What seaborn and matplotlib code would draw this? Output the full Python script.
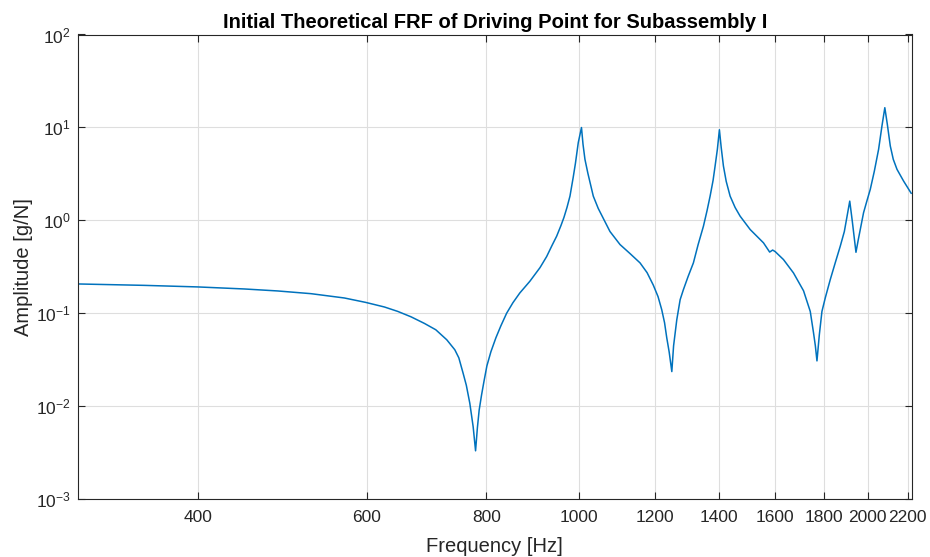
import numpy as np
import pandas as pd
import matplotlib
matplotlib.use("Agg")
import matplotlib.pyplot as plt
import seaborn as sns
from matplotlib.ticker import FixedLocator, FixedFormatter, NullLocator, LogFormatterMathtext

# Values (frequency in Hz, amplitude in g/N)
freq_hz = [
    300, 351.6, 400, 447.2, 484.5, 525.0, 568.8, 598.6, 626.3, 646.6,
    667.6, 689.5, 708.5, 727.4, 741.6, 748.8, 756.5, 762.4, 768.8, 775.0,
    779.5, 782.9, 786.3, 790.8, 795.2, 801.0, 808.7, 818.5, 828.4, 839.9,
    852.7, 866.9, 888.0, 910.0, 924.6, 936.5, 947.1, 957.0, 963.8, 970.9,
    977.9, 985.5, 990.8, 997.6, 1005.3, 1009.0, 1013.7, 1020.9, 1034.2, 1046.6,
    1059.5, 1076.5, 1102.8, 1129.6, 1157.1, 1176.8, 1194.6, 1208.3, 1219.0, 1227.3,
    1233.8, 1240.9, 1248.9, 1254.2, 1263.9, 1274.1, 1284.1, 1298.6, 1315.3, 1330.4,
    1347.4, 1359.3, 1369.2, 1379.0, 1385.7, 1393.3, 1400.1, 1406.1, 1413.7, 1423.2,
    1436.6, 1453.9, 1471.5, 1507.5, 1556.5, 1579.7, 1591.1, 1600.7, 1633.1, 1672.7,
    1713.6, 1741.5, 1755.2, 1763.0, 1769.8, 1779.9, 1791.1, 1805.7, 1827.2, 1849.5,
    1871.6, 1890.1, 1901.5, 1914.8, 1926.7, 1943.6, 1954.6, 1979.3, 1994.6, 2011.5,
    2031.1, 2052.2, 2068.8, 2083.1, 2095.6, 2110.6, 2125.8, 2144.9, 2179.2, 2219.7,
]
amplitude = [
    0.2056, 0.1986, 0.191, 0.1816, 0.1729, 0.1616, 0.1452, 0.1302, 0.1161, 0.1041,
    0.091, 0.0772, 0.066, 0.0515, 0.0402, 0.0329, 0.0225, 0.01665, 0.01067, 0.00596,
    0.00328, 0.00579, 0.00903, 0.0131, 0.0181, 0.02697, 0.0382, 0.0541, 0.0729, 0.0995,
    0.1292, 0.1644, 0.2195, 0.3084, 0.4055, 0.533, 0.672, 0.8766, 1.0695, 1.371,
    1.816, 2.892, 4.096, 6.855, 9.95, 6.57, 4.524, 3.194, 1.816, 1.338,
    1.043, 0.755, 0.5464, 0.4369, 0.3467, 0.2724, 0.1996, 0.15, 0.1086, 0.0786,
    0.0541, 0.0382, 0.0234, 0.0443, 0.0847, 0.1392, 0.1785, 0.2466, 0.3467, 0.5464,
    0.861, 1.273, 1.816, 2.684, 3.83, 5.80, 9.42, 6.10, 3.83, 2.617,
    1.816, 1.371, 1.105, 0.793, 0.570, 0.4535, 0.4767, 0.459, 0.3763, 0.2704,
    0.1737, 0.1041, 0.0613, 0.0443, 0.0305, 0.0583, 0.1041, 0.1463, 0.2289, 0.3494,
    0.524, 0.755, 1.0695, 1.604, 0.968, 0.451, 0.619, 1.202, 1.592, 2.145,
    3.357, 5.80, 10.35, 16.28, 10.80, 6.30, 4.524, 3.528, 2.637, 1.942,
]
x_ticks = [400, 600, 800, 1000, 1200, 1400, 1600, 1800, 2000, 2200]
x_tick_labels = ["400", "600", "800", "1000", "1200", "1400", "1600", "1800", "2000", "2200"]
y_ticks = [1e-3, 1e-2, 1e-1, 1e0, 1e1, 1e2]

title = "Initial Theoretical FRF of Driving Point for Subassembly I"
x_label = "Frequency [Hz]"
y_label = "Amplitude [g/N]"

df = pd.DataFrame({"freq": freq_hz, "amp": amplitude})

sns.set_style("white")
plt.rcParams["font.family"] = ["Liberation Sans", "DejaVu Sans"]
plt.rcParams["mathtext.fontset"] = "custom"
plt.rcParams["mathtext.rm"] = "Liberation Sans"
plt.rcParams["mathtext.it"] = "Liberation Sans:italic"

fig = plt.figure(figsize=(9.3, 5.57), dpi=100)
ax = fig.add_axes([78 / 930, 1 - 498.7 / 557, (911.7 - 78) / 930, (498.7 - 34.5) / 557])

sns.lineplot(data=df, x="freq", y="amp", ax=ax, color="#0072BD", linewidth=1.1, sort=False)

ax.set_xscale("log")
ax.set_yscale("log")
ax.set_xlim(300, 2222)
ax.set_ylim(1e-3, 1e2)

ax.xaxis.set_major_locator(FixedLocator(x_ticks))
ax.xaxis.set_major_formatter(FixedFormatter(x_tick_labels))
ax.xaxis.set_minor_locator(NullLocator())
ax.yaxis.set_major_locator(FixedLocator(y_ticks))
ax.yaxis.set_major_formatter(LogFormatterMathtext())
ax.yaxis.set_minor_locator(NullLocator())

tick_col = "#262626"
ax.tick_params(axis="both", which="major", direction="in", length=5, width=0.8,
               top=True, right=True, bottom=True, left=True,
               labelsize=12.5, colors=tick_col)
ax.tick_params(axis="x", pad=8)
ax.tick_params(axis="y", pad=5)
for sp in ax.spines.values():
    sp.set_color("#262626")
    sp.set_linewidth(0.8)

ax.grid(True, which="major", color="#dedede", linewidth=0.8)
ax.set_axisbelow(True)

ax.set_title(title, fontsize=14.5, fontweight="bold", color="#000000", pad=5)
ax.set_xlabel(x_label, fontsize=14.5, color=tick_col, labelpad=9)
ax.set_ylabel(y_label, fontsize=14.5, color=tick_col, labelpad=2)

fig.savefig("out.png", dpi=100)
